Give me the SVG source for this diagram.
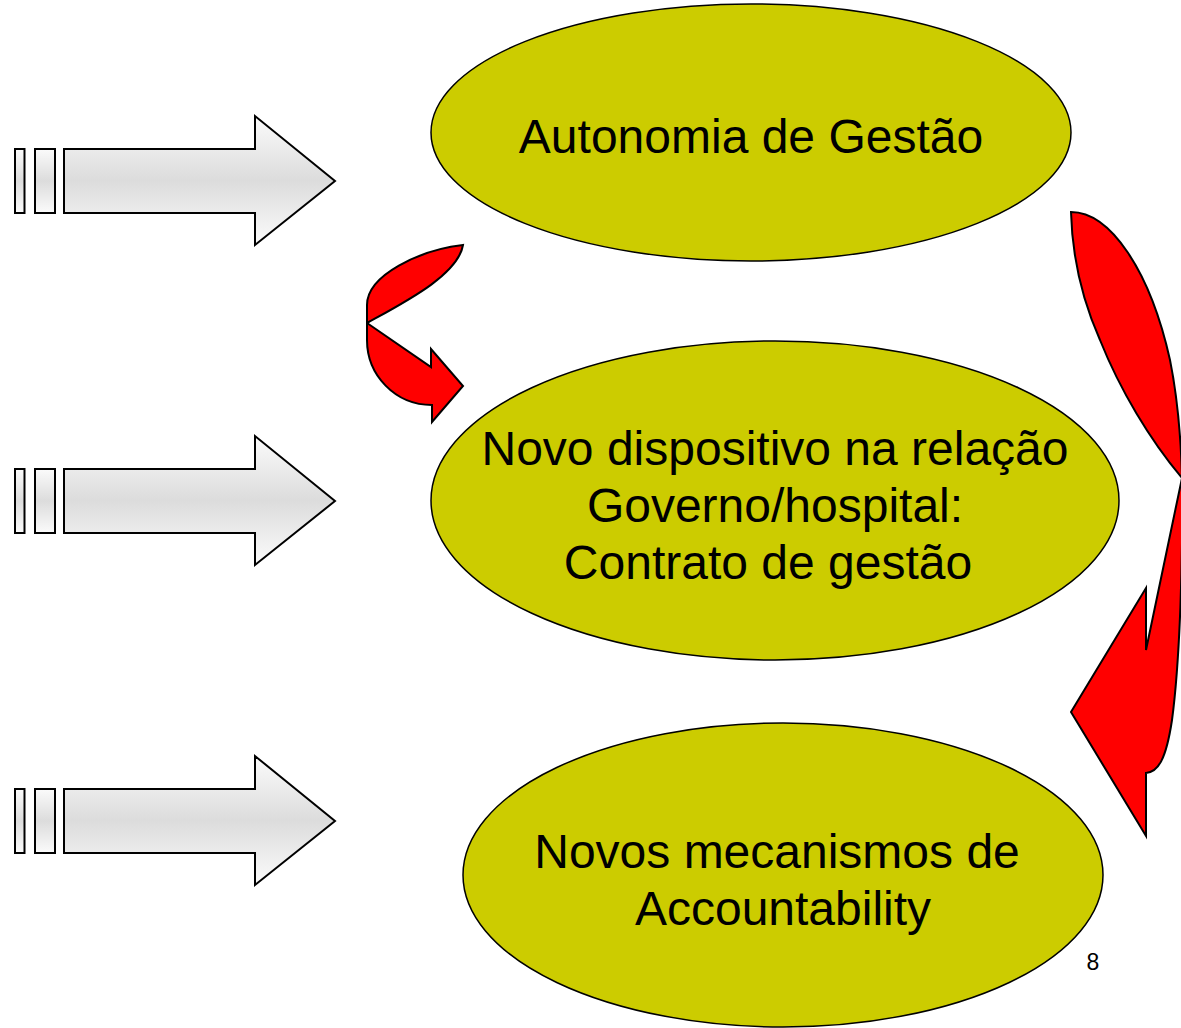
<svg xmlns="http://www.w3.org/2000/svg" width="1181" height="1028" viewBox="0 0 1181 1028">
<defs>
<linearGradient id="g" x1="0" y1="0" x2="0" y2="1">
<stop offset="0" stop-color="#fbfbfb"/>
<stop offset="0.5" stop-color="#dcdcdc"/>
<stop offset="1" stop-color="#fbfbfb"/>
</linearGradient>
<g id="bigarrow">
<rect x="15" y="149" width="9.5" height="64" class="ga"/>
<rect x="35" y="149" width="20" height="64" class="ga"/>
<path d="M64,149 L255,149 L255,116 L335,181 L255,245 L255,213 L64,213 Z" class="ga"/>
</g>
</defs>
<style>
.ga{fill:url(#g);stroke:#000;stroke-width:2;stroke-linejoin:miter}
.el{fill:#cccc00;stroke:#000;stroke-width:1.5}
.red{fill:#ff0000;stroke:#000;stroke-width:2;stroke-linejoin:miter}
.t{font-family:"Liberation Sans",Arial,sans-serif;font-size:48px;fill:#000;text-anchor:middle}
</style>
<rect width="1181" height="1028" fill="#fff"/>
<g id="connectors">
<use href="#bigarrow"/>
<use href="#bigarrow" y="320"/>
<use href="#bigarrow" y="640"/>
<path class="red" d="M463,245 C420,250 367,275 367,305 L367,323 C405,302 458,275 463,245 Z"/>
<path class="red" d="M367,323 L431,367 L431,349 L463,386 L432,422 L432,405 C395,405 367,375 367,340 Z"/>
<path class="red" d="M1071,212 C1110,212 1150,270 1170,360 C1178,400 1181,440 1182,478 C1150,440 1120,390 1100,340 C1080,295 1072,250 1071,212 Z"/>
<path class="red" d="M1182,478 L1146,650 L1146,588 L1071,712 L1146,836 L1146,773 C1158,772 1166,760 1172,720 C1180,660 1183,560 1182,478 Z"/>
</g>
<g id="n1">
<ellipse class="el" cx="751" cy="132.5" rx="320" ry="128.5"/>
<text class="t" x="751" y="153">Autonomia de Gestão</text>
</g>
<g id="n2">
<ellipse class="el" cx="775" cy="500.5" rx="344" ry="159.5"/>
<text class="t" x="775" y="465">Novo dispositivo na relação</text>
<text class="t" x="775" y="522">Governo/hospital:</text>
<text class="t" x="768" y="579">Contrato de gestão</text>
</g>
<g id="n3">
<ellipse class="el" cx="783" cy="875" rx="320" ry="152"/>
<text class="t" x="777" y="868">Novos mecanismos de</text>
<text class="t" x="783" y="925">Accountability</text>
</g>
<text x="1093" y="970" style="font-family:'Liberation Sans',Arial,sans-serif;font-size:23px;text-anchor:middle">8</text>
</svg>
